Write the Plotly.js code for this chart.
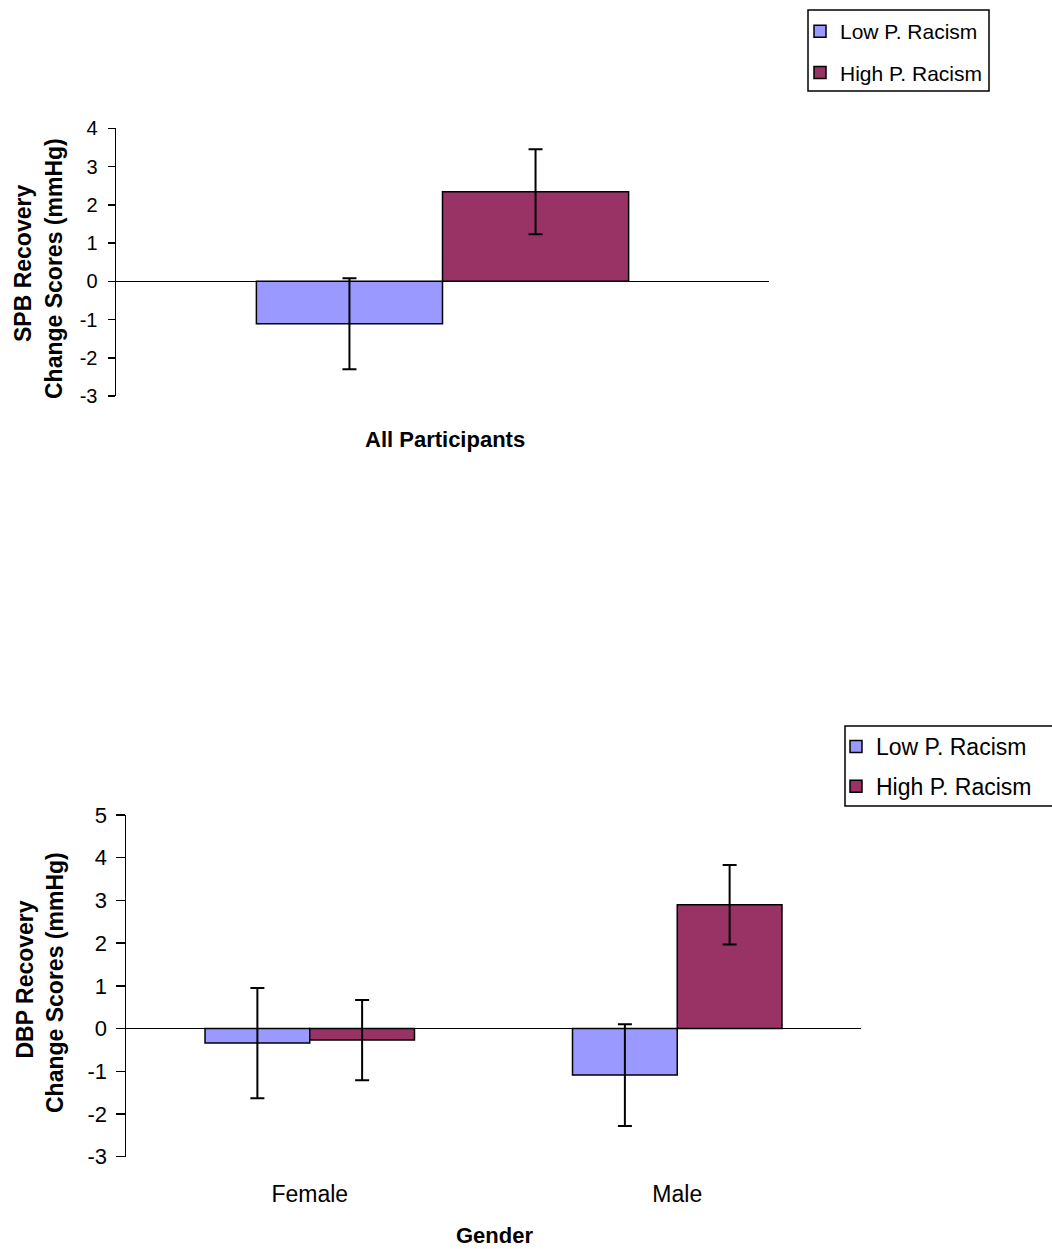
<!DOCTYPE html>
<html>
<head>
<meta charset="utf-8">
<script src="https://cdn.plot.ly/plotly-3.0.1.min.js"></script>
<style>html,body{margin:0;padding:0;background:#fff}#chart{width:1052px;height:1249px}</style>
</head>
<body>
<div id="chart"></div>
<script>
// ---- data ----
var seriesNames = ['Low P. Racism', 'High P. Racism'];
var categoriesTop = ['All Participants'];
var sbpLow = [-1.11];
var sbpLowErr = [1.19];
var sbpHigh = [2.34];
var sbpHighErr = [1.11];

var categoriesBottom = ['Female', 'Male'];
var dbpLow = [-0.34, -1.09];
var dbpLowErr = [1.29, 1.19];
var dbpHigh = [-0.27, 2.90];
var dbpHighErr = [0.94, 0.93];

var yTicksTop = [-3, -2, -1, 0, 1, 2, 3, 4];
var yTicksBottom = [-3, -2, -1, 0, 1, 2, 3, 4, 5];

// ---- styles ----
var FONT = 'Liberation Sans, Arial, sans-serif';
var lowColor = '#9999FF';
var highColor = '#993366';
var W = 1052, H = 1249;
function px(x) { return x / W; }
function py(y) { return 1 - y / H; }

function barTrace(x, y, err, name, color, xa, ya, legend, group) {
  return {
    type: 'bar', x: x, y: y, name: name,
    xaxis: xa, yaxis: ya, legend: legend, legendgroup: group,
    marker: {color: color, line: {color: '#000', width: 1.5}},
    error_y: {type: 'data', array: err, visible: true, color: '#000', thickness: 2, width: 7},
    hoverinfo: 'skip'
  };
}

var data = [
  barTrace(categoriesTop, sbpLow, sbpLowErr, seriesNames[0], lowColor, 'x', 'y', 'legend', 'low'),
  barTrace(categoriesTop, sbpHigh, sbpHighErr, seriesNames[1], highColor, 'x', 'y', 'legend', 'high'),
  barTrace(categoriesBottom, dbpLow, dbpLowErr, seriesNames[0], lowColor, 'x2', 'y2', 'legend2', 'low2'),
  barTrace(categoriesBottom, dbpHigh, dbpHighErr, seriesNames[1], highColor, 'x2', 'y2', 'legend2', 'high2')
];

function yAxis(domain, range, ticks, anchor, size, ticklen, standoff) {
  return {
    domain: domain, range: range, anchor: anchor,
    tickvals: ticks, ticktext: ticks.map(String),
    showgrid: false, zeroline: true, zerolinecolor: '#000', zerolinewidth: 1.5,
    showline: true, linecolor: '#000', linewidth: 1.5,
    ticks: 'outside', ticklen: ticklen, tickwidth: 1.5, tickcolor: '#000',
    ticklabelstandoff: standoff,
    tickfont: {family: FONT, size: size, color: '#000'},
    fixedrange: true, automargin: false
  };
}

function box(x0, y0, x1, y1) {
  return {type: 'rect', xref: 'paper', yref: 'paper', layer: 'above',
    x0: px(x0), x1: px(x1), y0: py(y1), y1: py(y0),
    line: {color: '#000', width: 1.5}, fillcolor: 'rgba(0,0,0,0)'};
}

var layout = {
  width: W, height: H,
  margin: {l: 0, r: 0, t: 0, b: 0},
  paper_bgcolor: '#fff', plot_bgcolor: 'rgba(0,0,0,0)',
  font: {family: FONT, color: '#000'},
  barmode: 'group', bargap: 0.43, bargroupgap: 0,
  showlegend: true,
  xaxis: {
    domain: [px(116), px(769)], anchor: 'y',
    showticklabels: false, ticks: '', showline: false, showgrid: false, zeroline: false,
    fixedrange: true, automargin: false
  },
  yaxis: yAxis([py(396), py(128.3)], [-3, 4], yTicksTop, 'x', 20, 7, 6),
  xaxis2: {
    domain: [px(126), px(861)], anchor: 'y2',
    showticklabels: true, ticks: '', showline: false, showgrid: false, zeroline: false,
    ticklabelstandoff: 21,
    tickfont: {family: FONT, size: 23, color: '#000'},
    fixedrange: true, automargin: false
  },
  yaxis2: yAxis([py(1156.7), py(815)], [-3, 5], yTicksBottom, 'x2', 22, 9, 4),
  legend: {
    x: px(800), xanchor: 'left', y: py(11), yanchor: 'top',
    bgcolor: 'rgba(0,0,0,0)', borderwidth: 0,
    font: {family: FONT, size: 21, color: '#000'},
    traceorder: 'grouped', tracegroupgap: 11
  },
  legend2: {
    x: px(836), xanchor: 'left', y: py(725), yanchor: 'top',
    bgcolor: 'rgba(0,0,0,0)', borderwidth: 0,
    font: {family: FONT, size: 23, color: '#000'},
    traceorder: 'grouped', tracegroupgap: 7
  },
  shapes: [
    box(808, 10, 989, 91),
    box(845, 726, 1060, 806)
  ],
  annotations: [
    {text: '<b>SPB Recovery</b>', xref: 'paper', yref: 'paper', x: px(23), y: py(264), xanchor: 'center', yanchor: 'middle', textangle: -90, showarrow: false, font: {family: FONT, size: 23, color: '#000'}},
    {text: '<b>Change Scores (mmHg)</b>', xref: 'paper', yref: 'paper', x: px(54), y: py(269), xanchor: 'center', yanchor: 'middle', textangle: -90, showarrow: false, font: {family: FONT, size: 23, color: '#000'}},
    {text: '<b>All Participants</b>', xref: 'paper', yref: 'paper', x: px(445), y: py(439), xanchor: 'center', yanchor: 'middle', showarrow: false, font: {family: FONT, size: 22, color: '#000'}},
    {text: '<b>DBP Recovery</b>', xref: 'paper', yref: 'paper', x: px(24.5), y: py(980), xanchor: 'center', yanchor: 'middle', textangle: -90, showarrow: false, font: {family: FONT, size: 23, color: '#000'}},
    {text: '<b>Change Scores (mmHg)</b>', xref: 'paper', yref: 'paper', x: px(55), y: py(983), xanchor: 'center', yanchor: 'middle', textangle: -90, showarrow: false, font: {family: FONT, size: 23, color: '#000'}},
    {text: '<b>Gender</b>', xref: 'paper', yref: 'paper', x: px(494), y: py(1235), xanchor: 'center', yanchor: 'middle', showarrow: false, font: {family: FONT, size: 22, color: '#000'}}
  ]
};

Plotly.newPlot('chart', data, layout, {displayModeBar: false, staticPlot: true});
</script>
</body>
</html>
